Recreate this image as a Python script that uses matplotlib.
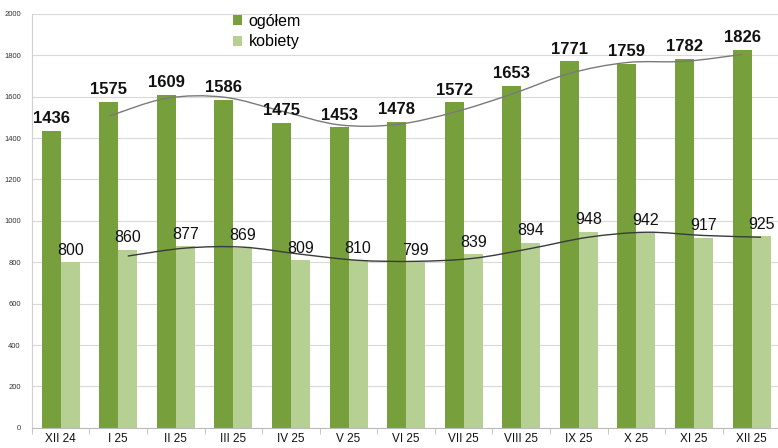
import numpy as np
import pandas as pd
import matplotlib
matplotlib.use("Agg")
import matplotlib.pyplot as plt
from matplotlib.path import Path
from matplotlib.patches import PathPatch

plt.rcParams["font.family"] = ["Liberation Sans", "DejaVu Sans"]

months = ["XII 24", "I 25", "II 25", "III 25", "IV 25", "V 25", "VI 25",
          "VII 25", "VIII 25", "IX 25", "X 25", "XI 25", "XII 25"]
ogolem = [1436, 1575, 1609, 1586, 1475, 1453, 1478, 1572, 1653, 1771, 1759, 1782, 1826]
kobiety = [800, 860, 877, 869, 809, 810, 799, 839, 894, 948, 942, 917, 925]

dark = "#77a03d"
light = "#b6cf92"


def smooth_path(xs, ys):
    # Catmull-Rom style cubic bezier through the points (like Excel smoothed line)
    pts = np.column_stack([xs, ys])
    verts = [pts[0]]
    codes = [Path.MOVETO]
    n = len(pts)
    for i in range(n - 1):
        p0 = pts[max(i - 1, 0)]
        p1 = pts[i]
        p2 = pts[i + 1]
        p3 = pts[min(i + 2, n - 1)]
        c1 = p1 + (p2 - p0) / 6.0
        c2 = p2 - (p3 - p1) / 6.0
        verts += [c1, c2, p2]
        codes += [Path.CURVE4] * 3
    return Path(verts, codes)


fig = plt.figure(figsize=(7.78, 4.48), dpi=100)
ax = fig.add_axes([0.041, 0.045, 0.962, 0.924])

x = np.arange(len(months))
w = 0.33
ax.bar(x - w / 2, ogolem, w, color=dark, label="ogółem", zorder=2)
ax.bar(x + w / 2, kobiety, w, color=light, label="kobiety", zorder=2)

for xi, v in zip(x, ogolem):
    ax.text(xi - w / 2, v + 22, str(v), ha="center", va="bottom",
            fontsize=12, fontweight="bold", color="#111111", zorder=4)
for xi, v in zip(x, kobiety):
    ax.text(xi + w / 2, v + 22, str(v), ha="center", va="bottom",
            fontsize=11.5, color="#111111", zorder=4)

# 2-period moving average trend lines
ma_og = pd.Series(ogolem).rolling(2).mean().values[1:]
ma_kb = pd.Series(kobiety).rolling(2).mean().values[1:]
ax.add_patch(PathPatch(smooth_path(x[1:] - w / 2, ma_og), fill=False,
                       edgecolor="#7a7a7a", lw=1.0, zorder=3))
ax.add_patch(PathPatch(smooth_path(x[1:] + w / 2, ma_kb), fill=False,
                       edgecolor="#3a3a3a", lw=1.0, zorder=3))

ax.set_ylim(0, 2000)
ax.set_yticks(range(0, 2001, 200))
ax.set_xlim(-0.5, 12.45)
ax.set_xticks(x)
ax.set_xticklabels(months, fontsize=8.5, color="#111111")
ax.set_xticks(np.arange(-0.5, 12.6, 1), minor=True)
ax.tick_params(axis="x", which="major", length=0, pad=4)
ax.tick_params(axis="x", which="minor", length=4, color="#bbbbbb")
ax.tick_params(axis="y", length=0, labelsize=5.5, labelcolor="#333333", pad=8)
ax.grid(axis="y", color="#d9d9d9", lw=0.8, zorder=0)
for s in ["top", "right"]:
    ax.spines[s].set_visible(False)
ax.spines["left"].set_color("#d0d0d0")
ax.spines["bottom"].set_color("#bbbbbb")

ax.legend(loc="upper left", bbox_to_anchor=(0.25, 1.035), frameon=False,
          fontsize=11.5, handlelength=0.55, handleheight=0.55, handletextpad=0.4,
          labelspacing=0.35)

fig.savefig("out.png", dpi=100)
